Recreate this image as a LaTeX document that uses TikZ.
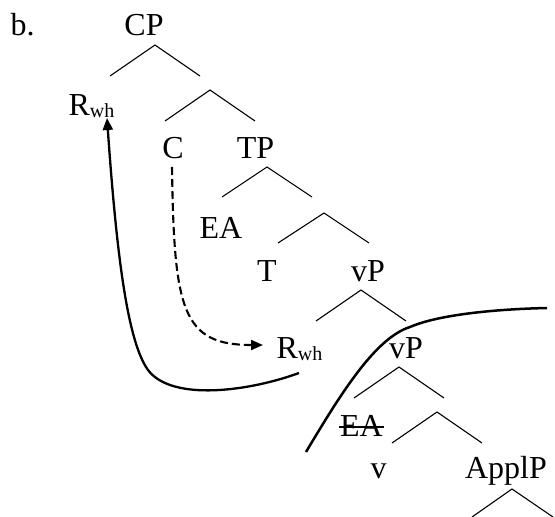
\documentclass[tikz,border=0pt]{standalone}
\usepackage{fontspec}
\setmainfont{Liberation Serif}
\usetikzlibrary{arrows.meta}
\newcommand\Rwhtext{R\raisebox{-2pt}{\fontsize{20}{20}\selectfont wh}}
\begin{document}
\begin{tikzpicture}[x=1pt,y=-1pt,
  lbl/.style={anchor=base,inner sep=0pt,font=\fontsize{32}{36}\selectfont},
  br/.style={line width=1.1pt},
  mv/.style={line width=2.3pt,-{Triangle[length=12pt,width=10pt]}},
  dmv/.style={line width=2.1pt,dash pattern=on 8pt off 4pt,-{Triangle[length=12pt,width=10pt]}},
  bound/.style={line width=2.5pt}]
\useasboundingbox (0,0) rectangle (555,517);
% labels
\node[lbl] (b) at (22.5,35) {b.};
\node[lbl] (cp) at (144,35) {CP};
\node[lbl] (rtop) at (91.5,115) {\Rwhtext};
\node[lbl] (c) at (173,158) {C};
\node[lbl] (tp) at (255.5,158) {TP};
\node[lbl] (ea) at (221,238) {EA};
\node[lbl] (t) at (267,281) {T};
\node[lbl] (vp) at (368,281) {vP};
\node[lbl] (rlow) at (299.5,358) {\Rwhtext};
\node[lbl] (vp2) at (406,358) {vP};
\node[lbl] (ea2) at (361.5,436) {EA};
\node[lbl] (v) at (378.5,478) {v};
\node[lbl] (applp) at (506,478) {ApplP};
% branches
\foreach \ax/\ay/\lx/\ly/\rx/\ry [count=\i] in {
  155/45/110/76/200/76,
  210/90/165/121/255/121,
  267/167/222/197/312/197,
  324/213/278/243/369/243,
  361/290/316/321/406/321,
  399/367/354/398/444/398,
  437/412/392/443/482/443,
  512/489/472/517/553/517}{
  \coordinate (a\i) at (\ax,\ay);
  \coordinate (l\i) at (\lx,\ly);
  \coordinate (r\i) at (\rx,\ry);
  \draw[br] (l\i) -- (a\i) -- (r\i);
}
% strike-through
\draw[line width=1.4pt] ([xshift=-1pt,yshift=9pt]ea2.base west) -- ([xshift=1pt,yshift=9pt]ea2.base east);
% boundary curve
\coordinate (bs) at (306,452);
\coordinate (bm) at (410,327);
\coordinate (be) at (547,308);
\draw[bound] (bs) .. controls (340,395) and (375,338) .. (bm) .. controls (440,314) and (500,309) .. (be);
% solid movement arrow
\coordinate (ms) at (299,373);
\coordinate (mc) at (148,370);
\coordinate (me) at (107,118);
\draw[mv] (ms) .. controls (250,391) and (172,402) .. (mc) .. controls (128,342) and (117,260) .. (me);
% dashed arrow
\coordinate (ds) at (172,167);
\coordinate (de) at (263,345);
\draw[dmv] (ds) .. controls (174,310) and (182,345) .. (de);
\end{tikzpicture}
\end{document}
